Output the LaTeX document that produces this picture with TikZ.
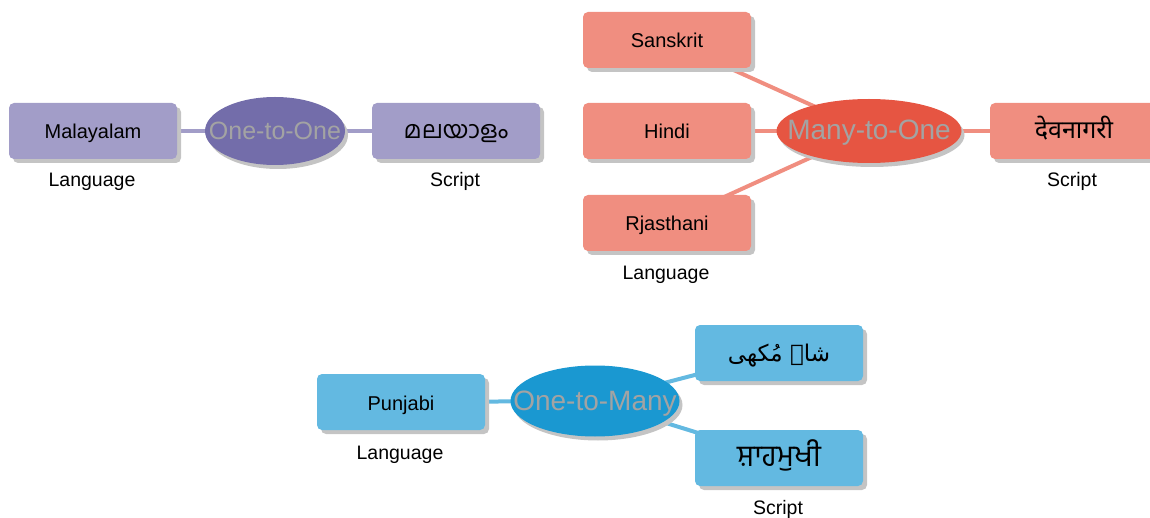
\documentclass[tikz,border=0pt]{standalone}
\usepackage{fontspec}
\setmainfont{Liberation Sans}
\newfontfamily\malfont[Script=Malayalam]{Hind Kochi}
\newfontfamily\devfont[Script=Devanagari]{Noto Sans}
\newfontfamily\gurfont[Script=Gurmukhi]{Hind Jalandhar}
\newfontfamily\arabicfont[Script=Arabic]{DejaVu Sans}
\TeXXeTstate=1
\usetikzlibrary{shapes.geometric,shadows,backgrounds}
\definecolor{pdark}{HTML}{736DAA}
\definecolor{plight}{HTML}{A29DC8}
\definecolor{rdark}{HTML}{E65542}
\definecolor{rlight}{HTML}{F08E80}
\definecolor{bdark}{HTML}{1A98D1}
\definecolor{blight}{HTML}{63B9E1}
\definecolor{shade}{HTML}{C4C4C4}
\definecolor{etext}{HTML}{A3A3A3}
\tikzset{
  boxnode/.style={rectangle, rounded corners=5pt, minimum width=168pt, minimum height=56pt, inner sep=0pt,
    font=\fontsize{20}{24}\selectfont, text=black, text height=19pt, text depth=3pt,
    drop shadow={shadow xshift=4pt, shadow yshift=-4pt, fill=shade, opacity=1}},
  ellnode/.style={ellipse, inner xsep=-40pt, inner ysep=0pt, text=etext, text height=20pt, text depth=2pt,
    drop shadow={shadow xshift=3pt, shadow yshift=-4pt, fill=shade, opacity=1}},
  tag/.style={font=\fontsize{19.5}{22}\selectfont, text=black, inner sep=0pt, anchor=base},
  conn/.style={line width=4pt},
}
\begin{document}
\begin{tikzpicture}[x=1pt,y=-1pt]
\useasboundingbox (0,0) rectangle (1150,518);
% One-to-One
\node[boxnode, fill=plight] (mal) at (93,131) {Malayalam};
\node[ellnode, fill=pdark, minimum width=140pt, minimum height=68pt, font=\fontsize{25}{28}\selectfont] (oto) at (275,131) {One-to-One};
\node[boxnode, fill=plight] (malscr) at (456,131) {\malfont\fontsize{24}{28}\selectfont മലയാളം};
\node[tag] (l1) at (92,187) {Language};
\node[tag] (s1) at (455,187) {Script};
% Many-to-One
\node[boxnode, fill=rlight] (san) at (667,40) {Sanskrit};
\node[boxnode, fill=rlight] (hin) at (667,131) {Hindi};
\node[boxnode, fill=rlight] (raj) at (667,223) {Rjasthani};
\node[ellnode, fill=rdark, minimum width=185pt, minimum height=64pt, font=\fontsize{28}{32}\selectfont] (mto) at (869,131) {Many-to-One};
\node[boxnode, fill=rlight] (dev) at (1074,131) {\devfont\fontsize{25}{28}\selectfont देवनागरी};
\node[tag] (l2) at (666,280) {Language};
\node[tag] (s2) at (1072,187) {Script};
% One-to-Many
\node[boxnode, fill=blight] (pun) at (401,402) {Punjabi};
\node[ellnode, fill=bdark, minimum width=169pt, minimum height=71pt, font=\fontsize{28}{32}\selectfont] (otm) at (595,401) {One-to-Many};
\node[boxnode, fill=blight] (shm) at (779,353) {\arabicfont\fontsize{23}{26}\selectfont\beginR شاہ مُکھی\endR};
\node[boxnode, fill=blight] (gur) at (779,458) {\gurfont\fontsize{30}{32}\selectfont ਸ਼ਾਹਮੁਖੀ};
\node[tag] (l3) at (400,459) {Language};
\node[tag] (s3) at (778,514) {Script};
\begin{pgfonlayer}{background}
\draw[conn, plight] (mal.center) -- (oto.center) -- (malscr.center);
\draw[conn, rlight] (san.center) -- (mto.center);
\draw[conn, rlight] (hin.center) -- (mto.center);
\draw[conn, rlight] (raj.center) -- (mto.center);
\draw[conn, rlight] (mto.center) -- (dev.center);
\draw[conn, blight] (pun.center) -- (otm.center);
\draw[conn, blight] (otm.center) -- (shm.center);
\draw[conn, blight] (otm.center) -- (gur.center);
\end{pgfonlayer}
\end{tikzpicture}
\end{document}
